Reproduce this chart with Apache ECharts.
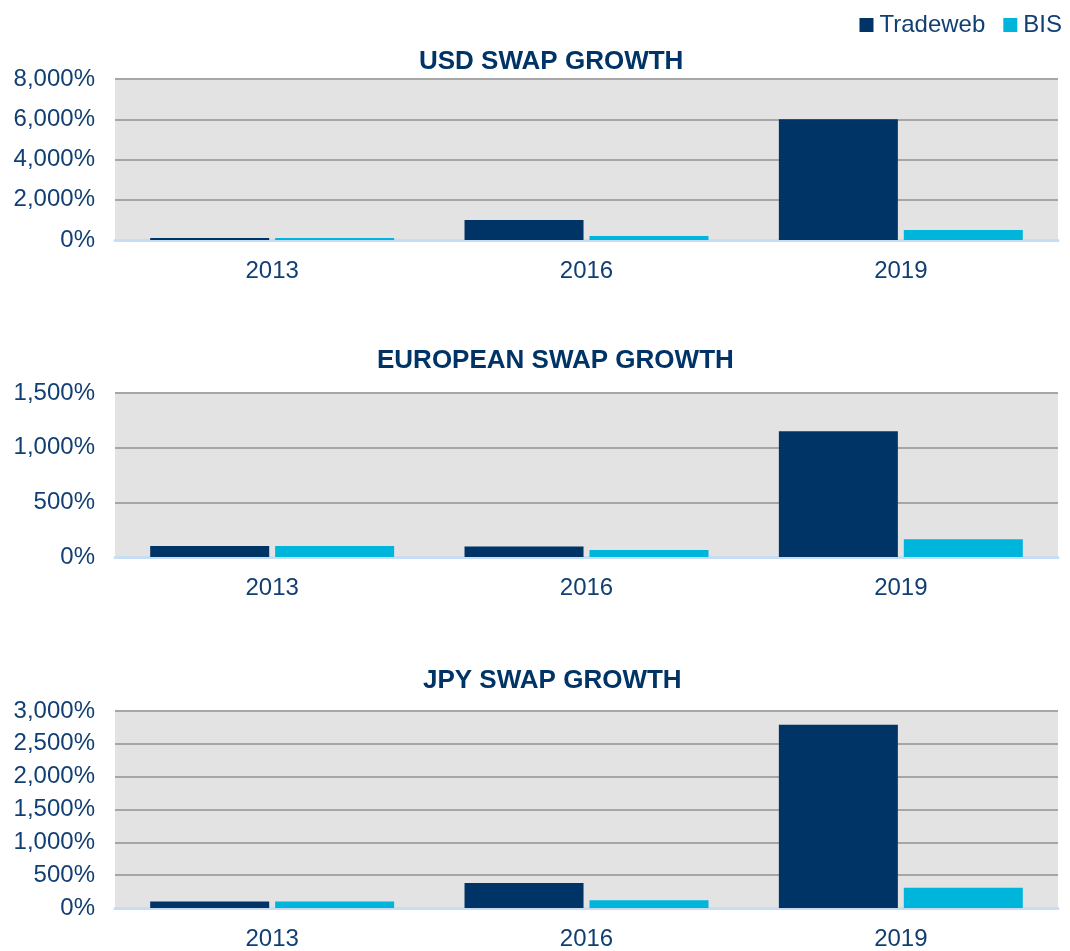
<!DOCTYPE html>
<html>
<head>
<meta charset="utf-8">
<script src="https://cdn.jsdelivr.net/npm/echarts@6/dist/echarts.min.js"></script>
<style>
  html, body { margin: 0; padding: 0; background: #ffffff; }
  #main { width: 1070px; height: 951px; }
</style>
</head>
<body>
<div id="main"></div>
<script>
var years = ['2013', '2016', '2019'];
var seriesNames = ['Tradeweb', 'BIS'];
var chartTitles = ['USD SWAP GROWTH', 'EUROPEAN SWAP GROWTH', 'JPY SWAP GROWTH'];

var usdTradeweb = [100, 1000, 6000];
var usdBis = [100, 200, 500];
var eurTradeweb = [100, 95, 1150];
var eurBis = [100, 64, 162];
var jpyTradeweb = [100, 382, 2790];
var jpyBis = [100, 119, 308];

var yMax = [8000, 1500, 3000];
var yStep = [2000, 500, 500];

var navy = '#003366';
var cyan = '#00b5dc';
var textNavy = '#123f73';

var chart = echarts.init(document.getElementById('main'));

var grids = [
    { left: 115, right: 12, top: 79, height: 161 },
    { left: 115, right: 12, top: 393, height: 164 },
    { left: 115, right: 12, top: 711, height: 202 }
];
var titleLeft = [414, 372, 418];
var titleTop = [44, 343, 663];
var dataSets = [
    [usdTradeweb, usdBis],
    [eurTradeweb, eurBis],
    [jpyTradeweb, jpyBis]
];

function pctLabel(v) {
    return v.toString().replace(/\B(?=(\d{3})+(?!\d))/g, ',') + '%';
}

var titles = [], xAxes = [], yAxes = [], series = [];
for (var i = 0; i < 3; i++) {
    titles.push({
        text: chartTitles[i],
        left: titleLeft[i],
        top: titleTop[i],
        textStyle: {
            color: navy,
            fontFamily: 'Liberation Sans',
            fontWeight: 'bold',
            fontSize: 26
        }
    });
    xAxes.push({
        type: 'category',
        gridIndex: i,
        data: years,
        axisTick: { show: false },
        axisLine: { show: true, lineStyle: { color: '#c6ddf3', width: 3 } },
        axisLabel: {
            color: textNavy,
            fontFamily: 'Liberation Sans',
            fontSize: 24,
            margin: 19
        }
    });
    yAxes.push({
        type: 'value',
        gridIndex: i,
        min: 0,
        max: yMax[i],
        interval: yStep[i],
        axisLine: { show: false },
        axisTick: { show: false },
        splitLine: { lineStyle: { color: '#a6a6a6', width: 2 } },
        splitArea: { show: true, areaStyle: { color: ['#e3e3e3', '#e3e3e3'] } },
        axisLabel: {
            color: textNavy,
            fontFamily: 'Liberation Sans',
            fontSize: 24,
            margin: 20,
            formatter: pctLabel
        }
    });
    series.push({
        name: seriesNames[0],
        type: 'bar',
        xAxisIndex: i,
        yAxisIndex: i,
        barWidth: 119,
        barGap: '5%',
        itemStyle: { color: navy },
        data: dataSets[i][0]
    });
    series.push({
        name: seriesNames[1],
        type: 'bar',
        xAxisIndex: i,
        yAxisIndex: i,
        barWidth: 119,
        barGap: '5%',
        itemStyle: { color: cyan },
        data: dataSets[i][1]
    });
}

option = {
    animation: false,
    backgroundColor: '#ffffff',
    title: titles,
    legend: {
        data: seriesNames,
        right: 3,
        top: 8,
        icon: 'rect',
        itemWidth: 14,
        itemHeight: 14,
        itemGap: 18,
        textStyle: {
            color: textNavy,
            fontFamily: 'Liberation Sans',
            fontSize: 24,
            padding: [0, 0, 0, 1]
        }
    },
    grid: grids,
    xAxis: xAxes,
    yAxis: yAxes,
    series: series
};

chart.setOption(option);
</script>
</body>
</html>
